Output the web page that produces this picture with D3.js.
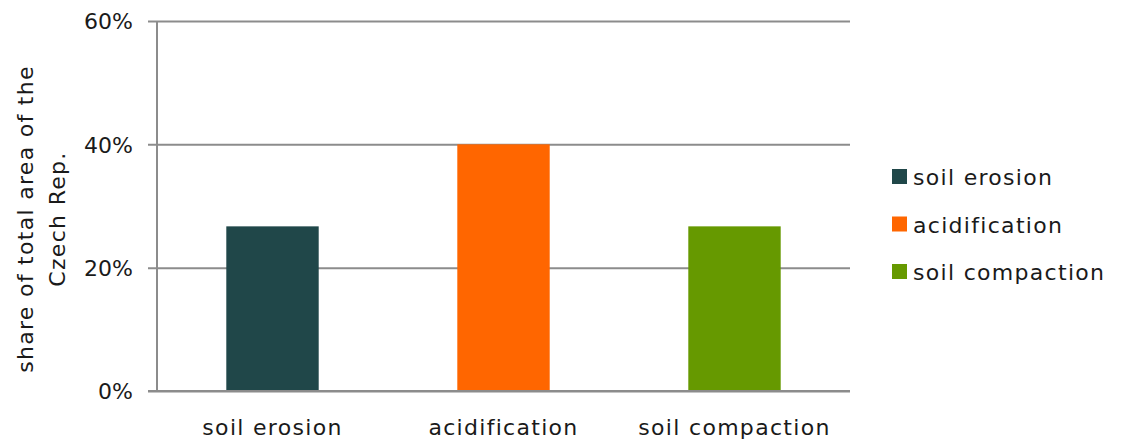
<!DOCTYPE html>
<html>
<head>
<meta charset="utf-8">
<script src="https://cdn.jsdelivr.net/npm/d3@7"></script>
<style>
  body { margin: 0; background: #fff; }
  svg text { font-family: "DejaVu Sans", sans-serif; fill: #1a1a1a; font-size: 22px; }
  .lbl { letter-spacing: 1.3px; }
</style>
</head>
<body>
<div class="chart"></div>
<script>
var categories = ["soil erosion", "acidification", "soil compaction"],
    values = [0.267, 0.40, 0.267],
    colors = ["#204749", "#ff6600", "#669900"],
    yTicks = [0, 0.2, 0.4, 0.6],
    yTitle = ["share of total area of the", "Czech Rep."];

var W = 1122, H = 439,
    mLeft = 157, mRight = 850, mTop = 21, mBottom = 391;

var svg = d3.select(".chart").append("svg")
    .attr("width", W)
    .attr("height", H);

var x = d3.scaleBand()
    .domain(categories)
    .range([mLeft, mRight])
    .paddingInner(0.6)
    .paddingOuter(0.3);

var y = d3.scaleLinear()
    .domain([0, 0.6])
    .range([mBottom, mTop]);

// gridlines + y axis
var yAxis = d3.axisLeft(y)
    .tickValues(yTicks)
    .tickFormat(d3.format(".0%"))
    .tickSize(-(mRight - mLeft))
    .tickPadding(24);

var gy = svg.append("g")
    .attr("transform", "translate(" + mLeft + ",0)")
    .call(yAxis);
gy.select(".domain").remove();
gy.selectAll(".tick line")
    .attr("x1", -9)
    .attr("stroke", "#8c8c8c")
    .attr("stroke-width", 2);
gy.selectAll(".tick text")
    .attr("fill", null)
    .attr("font-size", null)
    .attr("font-family", null)
    .attr("dy", "0.36em");

svg.append("line")
    .attr("x1", mLeft).attr("x2", mLeft)
    .attr("y1", mTop).attr("y2", mBottom)
    .attr("stroke", "#8c8c8c")
    .attr("stroke-width", 2);

// bars
svg.selectAll("rect.bar")
    .data(values)
    .enter()
    .append("rect")
    .attr("class", "bar")
    .attr("x", (d, i) => x(categories[i]))
    .attr("y", d => y(d))
    .attr("width", x.bandwidth())
    .attr("height", d => y(0) - y(d))
    .attr("fill", (d, i) => colors[i]);

// baseline over bars
svg.append("line")
    .attr("x1", mLeft - 9).attr("x2", mRight)
    .attr("y1", y(0)).attr("y2", y(0))
    .attr("stroke", "#8c8c8c")
    .attr("stroke-width", 2);

// x labels
var xAxis = d3.axisBottom(x).tickSize(0).tickPadding(0);
var gx = svg.append("g")
    .attr("transform", "translate(0," + mBottom + ")")
    .call(xAxis);
gx.select(".domain").remove();
gx.selectAll(".tick text")
    .attr("class", "lbl")
    .attr("fill", null)
    .attr("font-size", null)
    .attr("font-family", null)
    .attr("dy", null)
    .attr("y", 44);

// y title
var title = svg.append("text")
    .attr("class", "lbl")
    .attr("transform", "translate(41,219) rotate(-90)")
    .attr("text-anchor", "middle");
title.selectAll("tspan")
    .data(yTitle)
    .enter()
    .append("tspan")
    .attr("x", 0)
    .attr("y", (d, i) => i * 32 - 8)
    .text(d => d);

// legend
var legend = svg.append("g")
    .attr("transform", "translate(892,169)");
var item = legend.selectAll("g")
    .data(categories)
    .enter()
    .append("g")
    .attr("transform", (d, i) => "translate(0," + i * 47.5 + ")");
item.append("rect")
    .attr("width", 15)
    .attr("height", 15)
    .attr("fill", (d, i) => colors[i]);
item.append("text")
    .attr("class", "lbl")
    .attr("x", 21)
    .attr("y", 16)
    .text(d => d);
</script>
</body>
</html>
